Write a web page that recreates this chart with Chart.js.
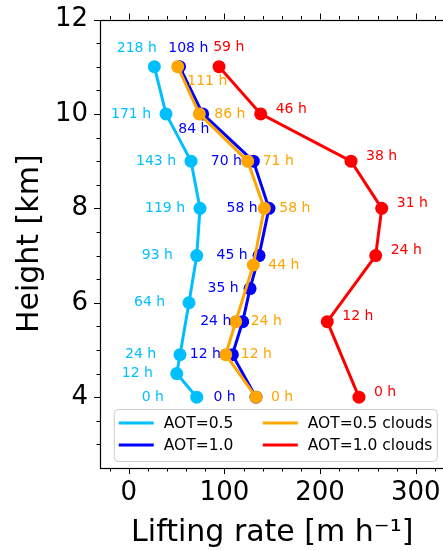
<!DOCTYPE html>
<html>
<head>
<meta charset="utf-8">
<script src="https://cdn.jsdelivr.net/npm/chart.js@4/dist/chart.umd.min.js"></script>
<style>
  html, body { margin: 0; background: #fff; overflow: hidden; }
  canvas { display: block; }
</style>
</head>
<body>
<!-- a little wider than the window: the right spine falls just outside, as in the original -->
<canvas id="liftChart" width="446" height="551"></canvas>
<script>
// lifting rate [m/h], height [km] and hours since start, one set per run
var aot05Rate = [71.1, 50.2, 53.6, 63.0, 71.1, 74.5, 65.1, 39.0, 26.8];
var aot05Height = [4.0, 4.5, 4.9, 6.0, 7.0, 8.0, 9.0, 10.0, 11.0];
var aot05Hours = [0, 12, 24, 64, 93, 119, 143, 171, 218];

var aot10Rate = [133.0, 108.3, 119.1, 126.8, 136.2, 146.6, 130.2, 77.3, 53.1];
var aot10Height = [4.0, 4.9, 5.6, 6.3, 7.0, 8.0, 9.0, 10.0, 11.0];
var aot10Hours = [0, 12, 24, 35, 45, 58, 70, 84, 108];

var aot05cRate = [133.0, 101.4, 111.8, 130.2, 141.7, 124.3, 73.8, 51.2];
var aot05cHeight = [4.0, 4.9, 5.6, 6.8, 8.0, 9.0, 10.0, 11.0];
var aot05cHours = [0, 12, 24, 44, 58, 71, 86, 111];

var aot10cRate = [240.6, 207.5, 258.1, 264.4, 232.3, 137.9, 94.4];
var aot10cHeight = [4.0, 5.6, 7.0, 8.0, 9.0, 10.0, 11.0];
var aot10cHours = [0, 12, 24, 31, 38, 46, 59];

var xTicks = [0, 100, 200, 300];
var yTicks = [4, 6, 8, 10, 12];

var FONT = "'DejaVu Sans', sans-serif";

function toPoints(xs, ys) {
    var pts = [];
    for (var i = 0; i < xs.length; i++) {
        pts.push({x: xs[i], y: ys[i]});
    }
    return pts;
}

function makeSet(label, color, xs, ys, hours, order, lbl) {
    return {
        label: label,
        data: toPoints(xs, ys),
        hours: hours,
        lbl: lbl,
        order: order,
        showLine: true,
        borderColor: color,
        backgroundColor: color,
        pointBackgroundColor: color,
        pointBorderColor: color,
        borderWidth: 3,
        pointRadius: 6.5,
        pointHoverRadius: 6.5,
        pointBorderWidth: 0,
        tension: 0
    };
}

// hour labels next to the points
var hourLabels = {
    id: 'hourLabels',
    afterDatasetsDraw: function(chart) {
        var ctx = chart.ctx;
        ctx.save();
        ctx.font = '14px ' + FONT;
        ctx.textBaseline = 'middle';
        chart.data.datasets.forEach(function(ds, di) {
            var meta = chart.getDatasetMeta(di);
            meta.data.forEach(function(pt, i) {
                var o = (ds.lbl.special && ds.lbl.special[i]) || ds.lbl;
                ctx.fillStyle = ds.borderColor;
                ctx.textAlign = o.align;
                ctx.fillText(ds.hours[i] + ' h', pt.x + o.dx, pt.y + o.dy);
            });
        });
        ctx.restore();
    }
};

// spines, major/minor tick marks, legend box
var frameAndLegend = {
    id: 'frameAndLegend',
    afterDraw: function(chart) {
        var ctx = chart.ctx;
        var a = chart.chartArea;
        var xs = chart.scales.x, ys = chart.scales.y;
        ctx.save();
        ctx.strokeStyle = '#000';
        ctx.lineWidth = 1;
        ctx.beginPath();
        var v, px, len;
        for (v = -20; v <= 320; v += 20) {
            px = Math.round(xs.getPixelForValue(v)) + 0.5;
            len = (v % 100 === 0) ? 6 : 3.5;
            ctx.moveTo(px, a.bottom); ctx.lineTo(px, a.bottom + len);
            ctx.moveTo(px, a.top); ctx.lineTo(px, a.top - len);
        }
        for (v = 3; v <= 12; v += 0.5) {
            px = Math.round(ys.getPixelForValue(v)) + 0.5;
            len = (v % 2 === 0) ? 6 : 3.5;
            ctx.moveTo(a.left, px); ctx.lineTo(a.left - len, px);
            ctx.moveTo(a.right, px); ctx.lineTo(a.right + len, px);
        }
        ctx.stroke();
        ctx.lineWidth = 1.2;
        ctx.strokeRect(Math.round(a.left) + 0.5, Math.round(a.top) + 0.5,
            a.right - a.left, Math.round(a.bottom) - Math.round(a.top));

        // legend, two columns filled top to bottom
        var w = 323, h = 52;
        var lx = (a.left + a.right) / 2 - w / 2 + 3;
        var ly = a.bottom - 7 - h;
        ctx.beginPath();
        ctx.roundRect(lx + 0.5, ly + 0.5, w, h, 4);
        ctx.fillStyle = 'rgba(255,255,255,0.8)';
        ctx.fill();
        ctx.strokeStyle = '#cccccc';
        ctx.lineWidth = 1;
        ctx.stroke();
        ctx.font = '15.5px ' + FONT;
        ctx.textBaseline = 'middle';
        ctx.textAlign = 'left';
        var colX = [lx + 5, lx + 149];
        var rowY = [ly + 14, ly + 36];
        chart.data.datasets.forEach(function(ds, i) {
            var cx = colX[Math.floor(i / 2)], cy = rowY[i % 2];
            ctx.strokeStyle = ds.borderColor;
            ctx.lineWidth = 3;
            ctx.beginPath();
            ctx.moveTo(cx, cy); ctx.lineTo(cx + 35, cy);
            ctx.stroke();
            ctx.fillStyle = '#000';
            ctx.fillText(ds.label, cx + 45, cy + 1);
        });
        ctx.restore();
    }
};

new Chart(document.getElementById('liftChart'), {
    type: 'scatter',
    data: {
        datasets: [
            makeSet('AOT=0.5', '#00bfff', aot05Rate, aot05Height, aot05Hours, 4,
                {dx: -55, dy: 0, align: 'left', special: {8: {dx: -17.6, dy: -18.4, align: 'center'}}}),
            makeSet('AOT=1.0', '#0000ff', aot10Rate, aot10Height, aot10Hours, 3,
                {dx: -42.5, dy: 0, align: 'left', special: {7: {dx: -24.4, dy: 15, align: 'left'}, 8: {dx: 8.8, dy: -18.4, align: 'center'}}}),
            makeSet('AOT=0.5 clouds', '#ffa500', aot05cRate, aot05cHeight, aot05cHours, 2,
                {dx: 15, dy: 0, align: 'left', special: {7: {dx: 9.6, dy: 14.4, align: 'left'}}}),
            makeSet('AOT=1.0 clouds', '#ff0000', aot10cRate, aot10cHeight, aot10cHours, 1,
                {dx: 15, dy: -5, align: 'left', special: {6: {dx: 9.7, dy: -19, align: 'center'}}})
        ]
    },
    options: {
        responsive: false,
        animation: false,
        events: [],
        layout: { autoPadding: false, padding: { top: 19.5, right: 1.5, left: 0, bottom: 0 } },
        plugins: {
            legend: { display: false },
            tooltip: { enabled: false }
        },
        scales: {
            x: {
                type: 'linear',
                min: -30,
                max: 330,
                grid: { display: false, drawTicks: true, tickLength: 6 },
                border: { display: false },
                ticks: { color: '#000', padding: 4, font: { family: FONT, size: 26 } },
                afterBuildTicks: function(scale) {
                    scale.ticks = xTicks.map(function(t) { return {value: t}; });
                },
                afterFit: function(scale) {
                    scale.height = 83;
                    scale.paddingLeft = 0;
                    scale.paddingRight = 0;
                },
                title: {
                    display: true,
                    text: 'Lifting rate [m h\u207B\u00B9]',
                    color: '#000',
                    font: { family: FONT, size: 30 },
                    padding: { top: 0, bottom: 0 }
                }
            },
            y: {
                type: 'linear',
                min: 2.5,
                max: 12,
                grid: { display: false, drawTicks: true, tickLength: 6 },
                border: { display: false },
                ticks: { color: '#000', padding: 6, font: { family: FONT, size: 26 } },
                afterBuildTicks: function(scale) {
                    scale.ticks = yTicks.map(function(t) { return {value: t}; });
                },
                afterFit: function(scale) {
                    scale.width = 100;
                    scale.paddingTop = 0;
                    scale.paddingBottom = 0;
                },
                title: {
                    display: true,
                    text: 'Height [km]',
                    color: '#000',
                    font: { family: FONT, size: 30 },
                    padding: { top: 12, bottom: 0 }
                }
            }
        }
    },
    plugins: [hourLabels, frameAndLegend]
});
</script>
</body>
</html>
